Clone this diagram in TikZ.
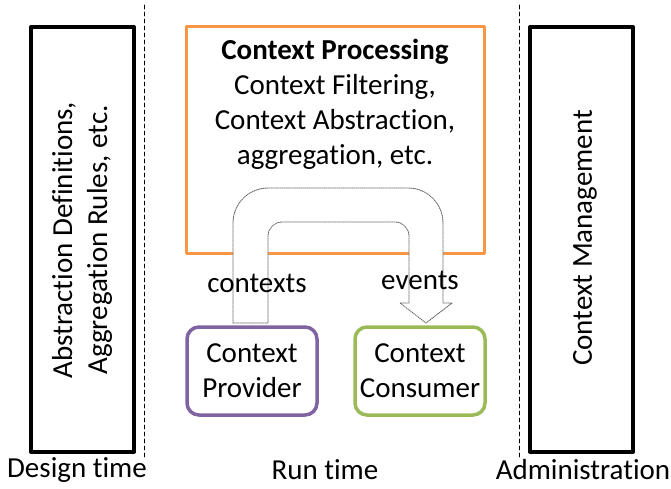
\documentclass[tikz,border=0pt]{standalone}
\usepackage{fontspec}
\setmainfont{Carlito}[Ligatures=NoCommon]
\usepackage{tikz}
\usetikzlibrary{calc}
\definecolor{procorange}{HTML}{F79646}
\definecolor{provpurple}{HTML}{8064A2}
\definecolor{conspgreen}{HTML}{9BBB59}

\begin{document}
\begin{tikzpicture}[line cap=round,line join=round,x=1pt,y=1pt,
  txt/.style={font=\fontsize{29}{35}\selectfont,inner sep=0pt,align=center},
  sidebox/.style={draw=black,line width=4pt,minimum width=103pt,minimum height=425pt,inner sep=0pt},
  actor/.style={draw,line width=3.5pt,rounded corners=12pt,minimum width=130pt,minimum height=88pt,inner sep=0pt},
  phase/.style={draw=black,line width=0.8pt,dash pattern=on 4pt off 3pt}]
\useasboundingbox (0,0) rectangle (671,488);
% design time
\node[sidebox] (defs) at (82.5,248.5) {};
\node[txt,rotate=90] (defstext) at (82,248) {Abstraction Definitions,\\Aggregation Rules, etc.};
\coordinate (dtop) at (144,483);
\coordinate (dbot) at (144,30);
\draw[phase] (dtop) -- (dbot);
\node[txt] (design) at (77,18) {Design time};
% run time
\node[draw=procorange,line width=3pt,minimum width=298pt,minimum height=226pt,inner sep=0pt] (proc) at (335,348) {};
\node[txt] (proctext) at (335,384) {\textbf{Context Processing}\\Context Filtering,\\Context Abstraction,\\aggregation, etc.};
\draw[black!60,densely dotted,line width=0.9pt,fill=white] (233,165) -- (233,265) arc (180:90:35) -- (408,300) arc (90:0:35)
  -- (443,185) -- (452,185) -- (426,165) -- (400,185) -- (409,185) -- (409,252) arc (0:90:14)
  -- (282,266) arc (90:180:14) -- (268,165) -- cycle;
\node[txt] (contexts) at (257,205) {contexts};
\node[txt] (events) at (420,208) {events};
\node[actor,draw=provpurple] (provider) at (252,117) {};
\node[txt] (providertext) at (252,117) {Context\\Provider};
\node[actor,draw=conspgreen] (consumer) at (420,117) {};
\node[txt] (consumertext) at (420,117) {Context\\Consumer};
\node[txt] (run) at (325,18) {Run time};
% administration
\coordinate (atop) at (519,483);
\coordinate (abot) at (519,30);
\draw[phase] (atop) -- (abot);
\node[sidebox] (mgmt) at (581.5,248.5) {};
\node[txt,rotate=90] (mgmttext) at (585,250) {Context Management};
\node[txt] (admin) at (583,18) {Administration};
\end{tikzpicture}
\end{document}
